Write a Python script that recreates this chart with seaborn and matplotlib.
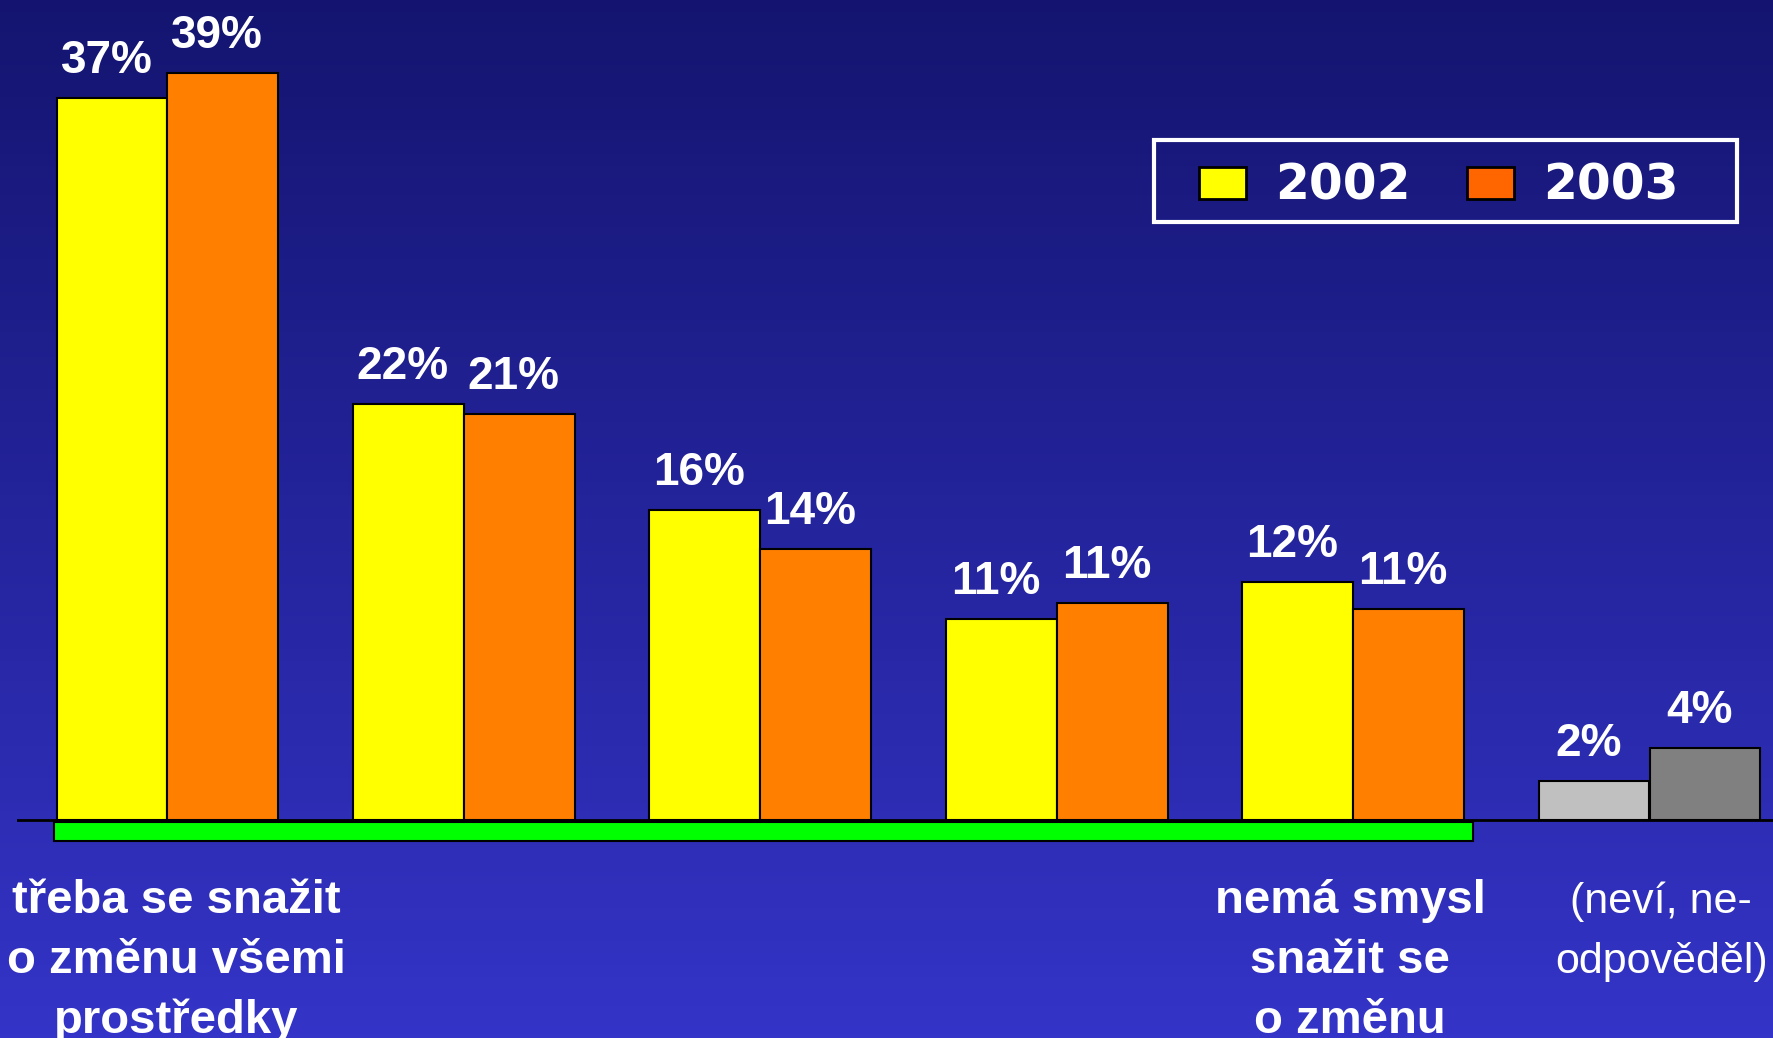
import matplotlib
matplotlib.use('Agg')
import matplotlib.pyplot as plt
import seaborn as sns
import numpy as np
import pandas as pd
from matplotlib.patches import Patch, Rectangle
from matplotlib.colors import LinearSegmentedColormap
from matplotlib.transforms import blended_transform_factory

# data (bar heights, labels as printed)
categories = ["A", "B", "C", "D", "E", "F"]
years = ["2002", "2003"]
values_2002 = [37.3, 21.5, 16.0, 10.4, 12.3, 2.0]
values_2003 = [38.6, 21.0, 14.0, 11.2, 10.9, 3.7]
labels_2002 = ["37%", "22%", "16%", "11%", "12%", "2%"]
labels_2003 = ["39%", "21%", "14%", "11%", "11%", "4%"]

cat_labels = [
    ["třeba se snažit", "o změnu všemi", "prostředky"],
    [], [], [],
    ["nemá smysl", "snažit se", "o změnu"],
    ["(neví, ne-", "odpověděl)"],
]
cat_bold = [True, True, True, True, True, False]

df = pd.DataFrame({
    "kat": categories * 2,
    "rok": [years[0]] * len(categories) + [years[1]] * len(categories),
    "hodnota": values_2002 + values_2003,
})

W, H = 1774, 1038
fig = plt.figure(figsize=(W / 100, H / 100), dpi=100)

# gradient background
bg = fig.add_axes([0, 0, 1, 1])
cmap = LinearSegmentedColormap.from_list("bg", ["#141470", "#3434c8"])
bg.imshow(np.linspace(0, 1, 256).reshape(-1, 1), cmap=cmap, aspect="auto",
          extent=[0, 1, 0, 1])
bg.axis("off")

x0 = 17
ax = fig.add_axes([x0 / W, 0, (W - x0) / W, 1])
ax.set_facecolor("none")

sns.barplot(data=df, x="kat", y="hodnota", hue="rok", order=categories,
            hue_order=years, palette={"2002": "#ffff00", "2003": "#ff8000"},
            width=0.748, edgecolor="black", linewidth=1.5, legend=False,
            saturation=1, ax=ax)

# last group is grey
ax.containers[0][-1].set_facecolor("#c0c0c0")
ax.containers[1][-1].set_facecolor("#808080")

px_per_unit = 19.35
base_px = 820
ax.set_ylim(-(H - base_px) / px_per_unit, base_px / px_per_unit)
pitch = 296.4
c0 = 167.5 - x0
ax.set_xlim(-c0 / pitch, (W - x0 - c0) / pitch)
ax.axis("off")
ax.axhline(0, color="black", lw=2, zorder=1)

# value labels
for cont, labs in zip(ax.containers, [labels_2002, labels_2003]):
    for bar, lab in zip(cont, labs):
        ax.annotate(lab, (bar.get_x() + bar.get_width() / 2, bar.get_height()),
                    xytext=(-4, 18), textcoords="offset points",
                    ha="center", va="baseline", color="white",
                    fontsize=33, fontweight="bold", family="Liberation Sans")

# green bracket under the main groups
ax.add_patch(Rectangle((-0.383, -1.08), 4.787, 0.98, facecolor="#00ff00",
                       edgecolor="black", lw=1.5, clip_on=False, zorder=2))

# category labels
tr = blended_transform_factory(ax.transData, fig.transFigure)
shift = [0.03, 0, 0, 0, -0.01, 0.04]
for i, lines in enumerate(cat_labels):
    for j, line in enumerate(lines):
        ax.text(i + shift[i], 1 - (913 + 60 * j) / H, line, transform=tr,
                ha="center", va="baseline", color="white",
                fontsize=34 if cat_bold[i] else 31,
                fontweight="bold" if cat_bold[i] else "normal",
                family="Liberation Sans")

# legend
handles = [Patch(facecolor="#ffff00", edgecolor="black", lw=2, label="2002"),
           Patch(facecolor="#ff6600", edgecolor="black", lw=2, label="2003")]
leg = fig.legend(handles=handles, loc="center", ncol=2, frameon=False,
                 bbox_to_anchor=(1439 / W, 1 - 186 / H),
                 prop={"family": "DejaVu Sans", "weight": "bold", "size": 35},
                 handlelength=0.97, handleheight=0.66, handletextpad=0.6,
                 columnspacing=1.15, labelcolor="white")
fig.patches.append(Rectangle((1154 / W, 1 - 222 / H), 583 / W, 82 / H,
                             transform=fig.transFigure, fill=False,
                             edgecolor="white", lw=3))

plt.savefig("out.png", dpi=100)
plt.close()
